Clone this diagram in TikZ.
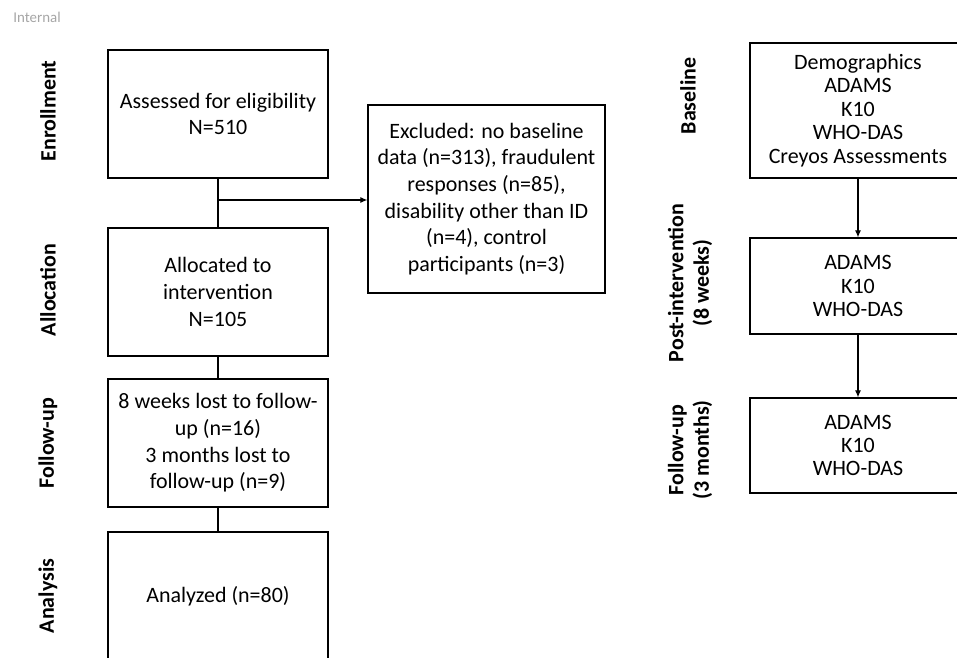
\documentclass[tikz,border=0pt]{standalone}
\usepackage{fontspec}
\setmainfont{Carlito}
\usetikzlibrary{positioning,arrows.meta}

\tikzset{
  box/.style={draw, line width=0.7pt, align=center, inner sep=0pt,
    font=\fontsize{12.5}{15.2}\selectfont},
  tightbox/.style={box, font=\fontsize{12.5}{13.3}\selectfont},
  phase/.style={rotate=90, align=center,
    font=\bfseries\fontsize{12.5}{14.5}\selectfont},
  link/.style={line width=0.7pt},
  arr/.style={line width=0.7pt, -{Latex[length=4pt,width=3.5pt]}},
}

\begin{document}
\begin{tikzpicture}[x=0.02cm, y=-0.02cm]
	\useasboundingbox (0,0) rectangle (957,657);
	\clip (0,0) rectangle (957,657);
	\node[text=gray!70, font=\fontsize{8.5}{10}\selectfont] (tag) at (37,17) {Internal};
	% participant flow
	\node[box, minimum width=4.4cm, minimum height=2.56cm] (assess) at (218,114) {Assessed for eligibility\\N=510};
	\node[box, minimum width=4.74cm, minimum height=3.76cm] (excl) at (486.5,199) {Excluded: no baseline\\data (n=313), fraudulent\\responses (n=85),\\disability other than ID\\(n=4), control\\participants (n=3)};
	\node[box, minimum width=4.4cm, minimum height=2.56cm] (alloc) at (218,292) {Allocated to\\intervention\\N=105};
	\node[box, minimum width=4.4cm, minimum height=2.56cm] (lost) at (218,443) {8 weeks lost to follow-\\up (n=16)\\3 months lost to\\follow-up (n=9)};
	\node[box, minimum width=4.4cm, minimum height=2.56cm] (anal) at (218,596) {Analyzed (n=80)};
	\coordinate (split) at (218,200);
	\draw[link] (assess) -- (alloc);
	\draw[arr] (split) -- (excl.west |- split);
	\draw[link] (alloc) -- (lost);
	\draw[link] (lost) -- (anal);
	% phase labels
	\node[phase] (lbenrol) at (48,111) {Enrollment};
	\node[phase] (lballoc) at (48,290) {Allocation};
	\node[phase] (lbfollow) at (48,443) {Follow-up};
	\node[phase] (lbanal) at (48,596) {Analysis};
	% measures
	\node[tightbox, minimum width=4.32cm, minimum height=2.7cm] (base) at (858,110.5) {Demographics\\ADAMS\\K10\\WHO-DAS\\Creyos Assessments};
	\node[tightbox, minimum width=4.32cm, minimum height=1.92cm] (post) at (858,286) {ADAMS\\K10\\WHO-DAS};
	\node[tightbox, minimum width=4.32cm, minimum height=1.9cm] (fu) at (858,445.5) {ADAMS\\K10\\WHO-DAS};
	\draw[arr] (base) -- (post);
	\draw[arr] (post) -- (fu);
	\node[phase] (lbbase) at (688,96) {Baseline};
	\node[phase] (lbpost) at (690,283) {Post-intervention\\(8 weeks)};
	\node[phase] (lbfu) at (690,450) {Follow-up\\(3 months)};
\end{tikzpicture}
\end{document}
